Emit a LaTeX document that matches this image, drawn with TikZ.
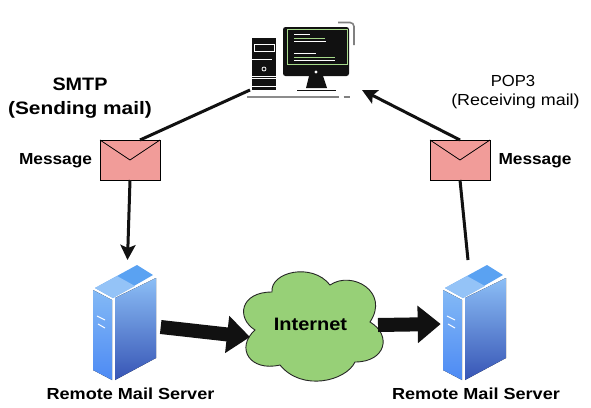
\documentclass[tikz,border=0pt]{standalone}
\usepackage{fontspec}
\setmainfont{Liberation Sans}
\usetikzlibrary{arrows.meta,calc}
\definecolor{envfill}{HTML}{F19C99}
\definecolor{cloudfill}{HTML}{97D077}
\definecolor{srvlight}{HTML}{5AA2F2}
\definecolor{srvmid}{HTML}{4A78D6}
\definecolor{srvdark}{HTML}{3755B5}
\definecolor{pcblack}{HTML}{111111}
\definecolor{pcgreen}{HTML}{A6D98A}
\newcommand{\wide}[2]{\scalebox{#1}[1]{#2}}
\tikzset{
 envelope/.style={draw=black,line width=1pt,fill=envfill,minimum width=60pt,minimum height=40pt,inner sep=0pt,outer sep=0pt},
 flap/.style={draw=black,line width=0.8pt},
 ghost/.style={inner sep=0pt,outer sep=0pt,minimum width=#1},
 lbl/.style={inner sep=0pt,font=\fontsize{16}{18}\selectfont\bfseries},
 lblbig/.style={inner sep=0pt,font=\fontsize{18}{20}\selectfont\bfseries},
 lblreg/.style={inner sep=0pt,font=\fontsize{16}{18}\selectfont},
 thin conn/.style={draw=pcblack,line width=3pt},
 thin arrow/.style={thin conn,-{Stealth[length=15pt,width=15pt,inset=3pt]}},
 fat arrow/.style={draw=pcblack,line width=14pt,-{Triangle[length=23pt,width=36pt]}},
 server/.pic={
  \fill[srvlight] (2,23) -- (44,0) -- (60,10) -- (20,33) -- cycle;
  \fill[srvlight!65!white] (2,23) -- (24,11) -- (42,21) -- (20,33) -- cycle;
  \fill[top color=srvlight!75!white,middle color=srvlight,bottom color=srvlight!85!blue] (0,25) -- (19,35) -- (19,115) -- (0,105) -- cycle;
  \fill[top color=srvlight!70!white,middle color=srvmid,bottom color=srvdark] (22,33) -- (63,13) -- (63,93) -- (22,115) -- cycle;
  \draw[white,line width=1pt] (4,51) -- (12,55) (5,59) -- (12,63);
 },
}
\begin{document}
\begin{tikzpicture}[x=1pt,y=-1pt]
\useasboundingbox (0,0) rectangle (591,407);
\fill[white] (0,0) rectangle (591,407);

% computer
\node[ghost=100pt,minimum height=70pt] (pc) at (300,60) {};
\fill[pcblack] (252,38) rectangle (276,90);
\draw[white,line width=.8pt] (254.5,44.5) rectangle (274,51);
\draw[white,line width=.7pt] (252,59) -- (272,59);
\draw[white,line width=.8pt] (264,69) circle (2pt);
\draw[white,line width=.7pt] (252,76) -- (276,76) (252,78.5) -- (276,78.5) (252,86) -- (276,86);
\fill[pcblack,rounded corners=2.5pt] (283,27) rectangle (349,76);
\draw[pcgreen,line width=.8pt] (287,29.5) rectangle (347,64.5);
\draw[white,line width=.9pt] (294,34.5) -- (310,34.5) (294,41) -- (326,41);
\draw[pcgreen,line width=.8pt] (294,38.5) -- (325,38.5);
\draw[white,line width=.9pt] (294,53.5) -- (316,53.5) (294,60) -- (335,60);
\draw[pcgreen,line width=.8pt] (294,57) -- (335,57);
\fill[white] (316,72) circle (1.7pt);
\fill[pcblack] (309,76) -- (323,76) -- (327,88) -- (306,88) -- cycle;
\draw[pcblack,line width=1pt] (297,90) -- (336,90);
\draw[gray,line width=1.6pt,rounded corners=4pt] (338,22.5) -- (354,22.5) -- (354,45);
\draw[gray!90,line width=2pt] (247,96.5) -- (320,96.5);
\draw[gray,line width=1.2pt] (320,97) -- (339,97);
\draw[gray,line width=1.5pt] (343.5,97) -- (350,97);

% envelopes
\node[envelope] (env1) at (130,160) {};
\draw[flap] (env1.north west) -- (env1.center) -- (env1.north east);
\node[envelope] (env2) at (460,160) {};
\draw[flap] (env2.north west) -- (env2.center) -- (env2.north east);

% servers
\node[ghost=63pt,minimum height=115pt] (srv1) at (124.5,322.5) {};
\pic at (93,265) {server};
\node[ghost=63pt,minimum height=115pt] (srv2) at (474.5,322.5) {};
\pic at (443,265) {server};

% cloud
\node[ghost=145pt,minimum height=111pt] (cloud) at (312.5,327.5) {};
\draw[fill=cloudfill,draw=black!85,line width=.9pt]
 (255,330) .. controls (236,318) and (240,292) .. (272,292)
 .. controls (270,272) and (312,262) .. (330,285)
 .. controls (352,270) and (390,292) .. (370,322)
 .. controls (392,335) and (386,362) .. (355,362)
 .. controls (346,381) and (302,392) .. (280,365)
 .. controls (250,372) and (235,348) .. (255,330) -- cycle;
\node[lblbig] (internet) at (310.5,324) {\wide{1.11}{Internet}};

% connectors
\draw[thin conn] ([yshift=-30pt]pc.west) -- ([xshift=10pt]env1.north);
\draw[thin arrow] (env1.south) -- ([xshift=3pt,yshift=5pt]srv1.north);
\draw[thin arrow] (env2.north) -- ([xshift=12pt,yshift=-30pt]pc.east);
\draw[thin conn] ([xshift=-6.5pt,yshift=5pt]srv2.north) -- (env2.south);
\draw[fat arrow] ([xshift=4.7pt,yshift=-4.5pt]srv1.east) -- ([xshift=10pt,yshift=-9.5pt]cloud.west);
\draw[fat arrow] ([xshift=-7pt,yshift=2.5pt]cloud.east) -- ([xshift=-2.3pt,yshift=-1.5pt]srv2.west);

% labels
\node[lblbig] (smtp) at (80,84) {\wide{1.1}{SMTP}};
\node[lblbig] (send) at (80,110) {\wide{1.16}{(Sending mail)}};
\node[lbl] (msg1) at (55.5,161) {\wide{1.08}{Message}};
\node[lbl] (msg2) at (535,161) {\wide{1.08}{Message}};
\node[lblreg] (pop) at (513,81) {\wide{1.04}{POP3}};
\node[lblreg] (recv) at (515.5,101) {\wide{1.12}{(Receiving mail)}};
\node[lbl] (rms1) at (130.5,394) {\wide{1.13}{Remote Mail Server}};
\node[lbl] (rms2) at (476,394) {\wide{1.13}{Remote Mail Server}};
\end{tikzpicture}
\end{document}
